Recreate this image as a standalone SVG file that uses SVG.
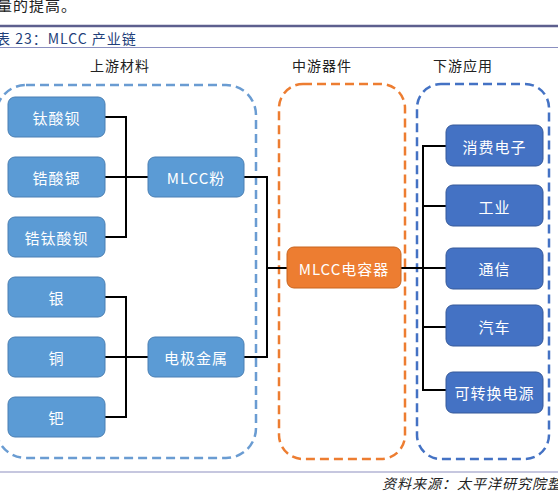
<svg xmlns="http://www.w3.org/2000/svg" width="558" height="497" viewBox="0 0 558 497">
<style>
text{font-family:"Noto Sans CJK SC","Noto Sans",sans-serif;}
.nl rect{fill:#5b9bd5;stroke:#4a7fb3;stroke-width:1;}
.nr rect{fill:#4472c4;stroke:#35599a;stroke-width:1;}
.nt{fill:#ffffff;font-size:15px;text-anchor:middle;dominant-baseline:central;letter-spacing:1px;}
.hd{fill:#222;font-size:14px;text-anchor:middle;dominant-baseline:central;letter-spacing:1px;}
.conn{stroke:#000;stroke-width:2;fill:none;}
.grp{fill:none;stroke-width:2.5;stroke-dasharray:9 5;}
</style>
<rect width="558" height="497" fill="#fff"/>
<text x="-3" y="4" font-size="15" fill="#222" dominant-baseline="central" letter-spacing="1">量的提高。</text>
<line x1="0" y1="26" x2="558" y2="26" stroke="#5d5f8e" stroke-width="2.5"/>
<text x="-4" y="37.5" font-size="14" fill="#1f3f7a" dominant-baseline="central" letter-spacing="1">表 23：MLCC 产业链</text>
<line x1="0" y1="47.5" x2="558" y2="47.5" stroke="#8a8fc0" stroke-width="1"/>
<text class="hd" x="120" y="65">上游材料</text>
<text class="hd" x="322" y="65">中游器件</text>
<text class="hd" x="463" y="65">下游应用</text>
<g id="groups">
<rect class="grp" x="-4" y="85" width="260" height="373" rx="30" stroke="#6a9cd2"/>
<rect class="grp" x="279" y="84" width="126" height="375" rx="24" stroke="#ed7d31"/>
<rect class="grp" x="417" y="84" width="132" height="375" rx="24" stroke="#4472c4"/>
</g>
<g id="connectors" class="conn">
<path d="M105 117H126V237H105M105 177H148"/>
<path d="M105 297H126V417H105M105 357H148"/>
<path d="M244 177H267V357H244M267 268H287"/>
<path d="M401 268H446M446 146H423V390H446M423 206H446M423 327H446"/>
</g>
<g id="n1" class="nl"><rect x="8" y="97" width="97" height="40" rx="7"/><text class="nt" x="56.5" y="117">钛酸钡</text></g>
<g id="n2" class="nl"><rect x="8" y="157" width="97" height="40" rx="7"/><text class="nt" x="56.5" y="177">锆酸锶</text></g>
<g id="n3" class="nl"><rect x="8" y="217" width="97" height="40" rx="7"/><text class="nt" x="56.5" y="237">锆钛酸钡</text></g>
<g id="n4" class="nl"><rect x="8" y="277" width="97" height="40" rx="7"/><text class="nt" x="56.5" y="297">银</text></g>
<g id="n5" class="nl"><rect x="8" y="337" width="97" height="40" rx="7"/><text class="nt" x="56.5" y="357">铜</text></g>
<g id="n6" class="nl"><rect x="8" y="397" width="97" height="40" rx="7"/><text class="nt" x="56.5" y="417">钯</text></g>
<g id="n7" class="nl"><rect x="148" y="157" width="96" height="40" rx="7"/><text class="nt" x="196" y="177">MLCC粉</text></g>
<g id="n8" class="nl"><rect x="148" y="337" width="96" height="40" rx="7"/><text class="nt" x="196" y="357">电极金属</text></g>
<g id="n9"><rect x="287" y="247" width="114" height="41" rx="7" fill="#ed7d31" stroke="#c8651f" stroke-width="1"/><text class="nt" x="344" y="268">MLCC电容器</text></g>
<g id="n10" class="nr"><rect x="446" y="125" width="97" height="41" rx="7"/><text class="nt" x="494.5" y="146">消费电子</text></g>
<g id="n11" class="nr"><rect x="446" y="185" width="97" height="41" rx="7"/><text class="nt" x="494.5" y="206">工业</text></g>
<g id="n12" class="nr"><rect x="446" y="248" width="97" height="41" rx="7"/><text class="nt" x="494.5" y="268">通信</text></g>
<g id="n13" class="nr"><rect x="446" y="305" width="97" height="41" rx="7"/><text class="nt" x="494.5" y="326">汽车</text></g>
<g id="n14" class="nr"><rect x="446" y="372" width="97" height="41" rx="7"/><text class="nt" x="494.5" y="392">可转换电源</text></g>
<line x1="0" y1="472" x2="558" y2="472" stroke="#8e90c0" stroke-width="1.2"/>
<text x="382" y="483" font-size="14" font-style="italic" fill="#222" dominant-baseline="central" letter-spacing="1">资料来源：太平洋研究院整理</text>
</svg>
